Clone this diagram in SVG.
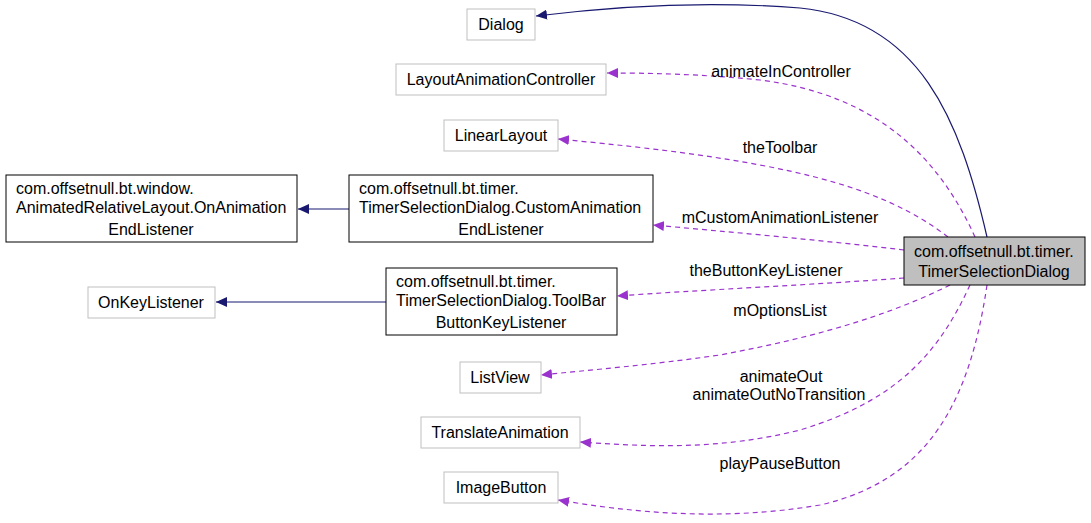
<svg xmlns="http://www.w3.org/2000/svg" width="1091" height="523" viewBox="0 0 1091 523">
<style>
text{font-family:"Liberation Sans",Arial,sans-serif;font-size:16px;fill:#000;text-anchor:middle}
.g{fill:#fff;stroke:#bfbfbf;stroke-width:1}
.b{fill:#fff;stroke:#000;stroke-width:1}
.inh{fill:none;stroke:#191970;stroke-width:1.2}
.use{fill:none;stroke:#9a32cd;stroke-width:1.2;stroke-dasharray:5,4}
</style>
<defs>
<marker id="an" markerWidth="12" markerHeight="10" refX="11" refY="5" orient="auto" markerUnits="userSpaceOnUse"><path d="M0,0 L11,5 L0,10 z" fill="#191970"/></marker>
<marker id="ap" markerWidth="12" markerHeight="10" refX="11" refY="5" orient="auto" markerUnits="userSpaceOnUse"><path d="M0,0 L11,5 L0,10 z" fill="#9a32cd"/></marker>
</defs>
<rect width="1091" height="523" fill="#fff"/>
<g id="edges">
<path class="inh" marker-end="url(#an)" d="M987,237 C960,120 920,20 800,8 C700,0 600,8 536,16"/>
<path class="use" marker-end="url(#ap)" d="M975,237 C940,160 880,95 760,80 C700,74 650,73 607,73"/>
<path class="use" marker-end="url(#ap)" d="M948,237 C900,200 840,180 760,165 C690,152 620,145 558,139"/>
<path class="use" marker-end="url(#ap)" d="M904,250 C820,240 730,232 653,225"/>
<path class="use" marker-end="url(#ap)" d="M904,278 C810,285 700,290 617,296"/>
<path class="use" marker-end="url(#ap)" d="M950,285 C880,320 800,340 720,355 C650,365 590,370 541,375"/>
<path class="use" marker-end="url(#ap)" d="M970,285 C940,350 900,400 800,430 C720,450 650,447 580,442"/>
<path class="use" marker-end="url(#ap)" d="M987,285 C970,400 930,480 820,505 C720,522 630,512 558,500"/>
<path class="inh" marker-end="url(#an)" d="M349,209 L298,209"/>
<path class="inh" marker-end="url(#an)" d="M386,302 L216,302"/>
<text x="781" y="77">animateInController</text>
<text x="780" y="153">theToolbar</text>
<text x="780" y="223">mCustomAnimationListener</text>
<text x="766" y="276">theButtonKeyListener</text>
<text x="780" y="316">mOptionsList</text>
<text x="781" y="382">animateOut</text>
<text x="779" y="400">animateOutNoTransition</text>
<text x="780" y="469">playPauseButton</text>
</g>
<g id="Dialog"><rect class="g" x="467" y="9" width="68" height="31"/><text x="501" y="30">Dialog</text></g>
<g id="LayoutAnimationController"><rect class="g" x="396" y="64" width="210" height="31"/><text x="501" y="85">LayoutAnimationController</text></g>
<g id="LinearLayout"><rect class="g" x="444" y="120" width="114" height="31"/><text x="501" y="141">LinearLayout</text></g>
<g id="OnAnimationEndListener"><rect class="b" x="6" y="175" width="291" height="67"/><text x="16" y="194" style="text-anchor:start">com.offsetnull.bt.window.</text><text x="16" y="213" style="text-anchor:start">AnimatedRelativeLayout.OnAnimation</text><text x="151" y="235">EndListener</text></g>
<g id="CustomAnimationEndListener"><rect class="b" x="349" y="175" width="304" height="67"/><text x="359" y="194" style="text-anchor:start">com.offsetnull.bt.timer.</text><text x="359" y="213" style="text-anchor:start">TimerSelectionDialog.CustomAnimation</text><text x="501" y="235">EndListener</text></g>
<g id="TimerSelectionDialog"><rect x="904" y="237" width="181" height="48" fill="#bfbfbf" stroke="#000"/><text x="914" y="257" style="text-anchor:start">com.offsetnull.bt.timer.</text><text x="994" y="277">TimerSelectionDialog</text></g>
<g id="OnKeyListener"><rect class="g" x="88" y="287" width="127" height="31"/><text x="151" y="308">OnKeyListener</text></g>
<g id="ToolBarButtonKeyListener"><rect class="b" x="386" y="268" width="231" height="67"/><text x="396" y="287" style="text-anchor:start">com.offsetnull.bt.timer.</text><text x="396" y="306" style="text-anchor:start">TimerSelectionDialog.ToolBar</text><text x="501" y="328">ButtonKeyListener</text></g>
<g id="ListView"><rect class="g" x="460" y="362" width="81" height="31"/><text x="500" y="383">ListView</text></g>
<g id="TranslateAnimation"><rect class="g" x="421" y="417" width="159" height="31"/><text x="500" y="438">TranslateAnimation</text></g>
<g id="ImageButton"><rect class="g" x="444" y="472" width="114" height="31"/><text x="501" y="493">ImageButton</text></g>
</svg>
